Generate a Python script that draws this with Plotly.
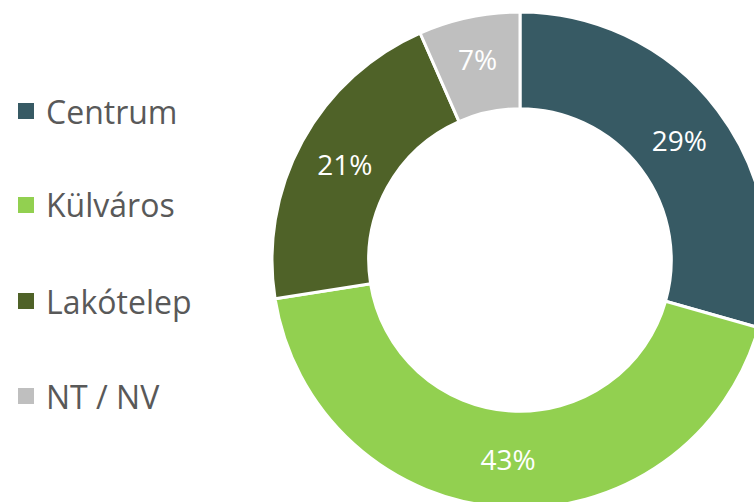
import plotly.graph_objects as go

labels = ["Centrum", "Külváros", "Lakótelep", "NT / NV"]
values = [29.4, 43.1, 20.9, 6.6]
colors = ["#375A64", "#92D050", "#4F6228", "#BFBFBF"]

W, H = 780, 520
cx, cy, R = 520, 260, 248

fig = go.Figure(go.Pie(
    labels=labels, values=values, sort=False, direction="clockwise", rotation=0,
    hole=0.61, marker=dict(colors=colors, line=dict(color="white", width=3)),
    textinfo="percent", texttemplate="%{percent:.0%}", textposition="inside",
    insidetextorientation="horizontal",
    textfont=dict(family="Open Sans", size=28, color="white"),
    domain=dict(x=[(cx - R) / W, (cx + R) / W], y=[(H - cy - R) / H, (H - cy + R) / H]),
    showlegend=False, hoverinfo="label+percent",
))

leg_y = [111, 205, 301, 396]
shapes, annotations = [], []
for lab, col, y in zip(labels, colors, leg_y):
    shapes.append(dict(type="rect", xref="paper", yref="paper",
                       x0=18 / W, x1=34 / W, y0=1 - (y + 8) / H, y1=1 - (y - 8) / H,
                       fillcolor=col, line=dict(width=0)))
    annotations.append(dict(text=lab, xref="paper", yref="paper", x=44 / W, y=1 - y / H,
                            xanchor="left", yanchor="middle", showarrow=False,
                            font=dict(family="Open Sans", size=32, color="#595959")))

fig.update_layout(width=W, height=H, margin=dict(l=0, r=0, t=0, b=0),
                  paper_bgcolor="white", plot_bgcolor="white",
                  shapes=shapes, annotations=annotations)

fig.write_html("out.html", config={"displayModeBar": False},
               post_script="document.body.style.margin='0';document.body.style.overflow='hidden';document.documentElement.style.overflow='hidden';")
